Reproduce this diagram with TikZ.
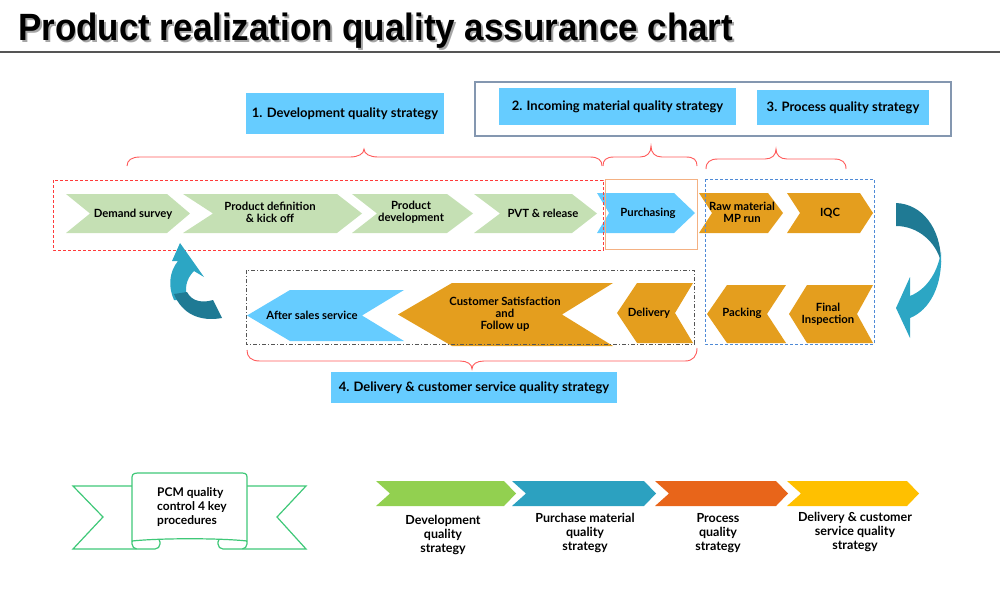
\documentclass[tikz,border=0pt]{standalone}
\usepackage{fontspec}
\setmainfont{Lato}
\newfontfamily\titlefont{Liberation Sans}
\definecolor{skyb}{HTML}{66CCFF}
\definecolor{lgreen}{HTML}{C5E0B4}
\definecolor{orng}{HTML}{E49E1E}
\definecolor{bracered}{HTML}{FF5B5B}
\definecolor{dashred}{HTML}{FF3B3B}
\definecolor{purchbox}{HTML}{F4B183}
\definecolor{procblue}{HTML}{4F8AD6}
\definecolor{outerbox}{HTML}{8497B0}
\definecolor{dgray}{HTML}{555555}
\definecolor{bgreen}{HTML}{92D050}
\definecolor{bteal}{HTML}{2CA1C0}
\definecolor{borange}{HTML}{E8651A}
\definecolor{byellow}{HTML}{FFC000}
\definecolor{arrdark}{HTML}{1F7A94}
\definecolor{arrlight}{HTML}{2CA6C4}
\definecolor{banner}{HTML}{3FC878}
% right-pointing chevron: x0,x1,ytop,ybot,dl,dr,colour
\newcommand\chevR[7]{\fill[#7] (#1,#3) -- ({#2-#6},#3) -- (#2,{(#3+#4)/2}) -- ({#2-#6},#4) -- (#1,#4) -- ({#1+#5},{(#3+#4)/2}) -- cycle;}
% left-pointing chevron: x0(tip),x1,ytop,ybot,dtip,dnotch,colour
\newcommand\chevL[7]{\fill[#7] (#1,{(#3+#4)/2}) -- ({#1+#5},#3) -- (#2,#3) -- ({#2-#6},{(#3+#4)/2}) -- (#2,#4) -- ({#1+#5},#4) -- cycle;}
\newcommand\titletext{Product realization quality assurance chart}
\tikzset{
  lbl/.style={font=\bfseries\fontsize{11.3}{12}\selectfont, align=center, inner sep=0pt},
  sbox/.style={fill=skyb, font=\bfseries\fontsize{13}{14}\selectfont, inner sep=0pt, align=center},
  blab/.style={font=\bfseries\fontsize{12.5}{14}\selectfont, align=center, inner sep=0pt},
  bracel/.style={draw=bracered, line width=0.9pt},
  bn/.style={draw=banner, line width=1.2pt, fill=white},
}
\begin{document}
\begin{tikzpicture}[x=1pt,y=-1pt]
\useasboundingbox (0,0) rectangle (1000,589);
% title with shadow (one node)
\node[anchor=base west, inner sep=0pt, font=\titlefont\bfseries\fontsize{38}{40}\selectfont] (title) at (18,40) {\scalebox{0.92}[1]{\makebox[0pt][l]{\hspace{2pt}\raisebox{-2pt}{\color{black!35}\titletext}}\titletext}};
\draw[dgray, line width=1.5pt] (0,52) -- (1000,52);

% strategy boxes
\draw[outerbox, line width=1.5pt] (475,82) rectangle (951,136);
\node[sbox, minimum width=198pt, minimum height=41pt] (s1) at (345,113.5) {1. Development quality strategy};
\node[sbox, minimum width=237pt, minimum height=37pt] (s2) at (617.5,106.5) {2. Incoming material quality strategy};
\node[sbox, minimum width=172pt, minimum height=35pt] (s3) at (843,107.5) {3. Process quality strategy};
\node[sbox, minimum width=286pt, minimum height=31pt] (s4) at (474,387.5) {4. Delivery \& customer service quality strategy};

% braces
\draw[bracel] (127,166) .. controls (127,160) and (132,157) .. (140,157) -- (350,157) .. controls (358,157) and (364,154) .. (364,149) .. controls (364,154) and (370,157) .. (378,157) -- (590,157) .. controls (598,157) and (602,160) .. (602,166);
\draw[bracel] (603,166) .. controls (603,160) and (606,157) .. (614,157) -- (640,157) .. controls (647,157) and (651,153) .. (651,146) .. controls (651,153) and (655,157) .. (662,157) -- (686,157) .. controls (694,157) and (697,160) .. (697,166);
\draw[bracel] (706,169) .. controls (706,162) and (710,159) .. (718,159) -- (765,159) .. controls (772,159) and (776,155) .. (776,149) .. controls (776,155) and (780,159) .. (787,159) -- (834,159) .. controls (842,159) and (846,162) .. (846,169);
\draw[bracel] (247,350) .. controls (247,357) and (251,361) .. (260,361) -- (460,361) .. controls (467,361) and (472,364) .. (472,369) .. controls (472,364) and (477,361) .. (484,361) -- (685,361) .. controls (693,361) and (697,356) .. (697,348);

% row 1 chevrons
\chevR{66}{190}{194}{233}{24}{23}{lgreen}
\chevR{183}{362}{194}{233}{30}{25}{lgreen}
\chevR{352}{473}{194}{233}{25}{26}{lgreen}
\chevR{474}{597}{194}{233}{26}{25}{lgreen}
\chevR{597}{695}{193}{233}{12}{21}{skyb}
\chevR{699}{783}{193}{233}{13}{15}{orng}
\chevR{787}{873}{193}{233}{13}{13}{orng}
\node[lbl] (n1) at (133,214) {Demand survey};
\node[lbl] (n2) at (270,212) {Product definition\\\& kick off};
\node[lbl] (n3) at (411,212) {Product\\development};
\node[lbl] (n4) at (543,213) {PVT \& release};
\node[lbl] (n5) at (648,213) {Purchasing};
\node[lbl] (n6) at (742,212) {Raw material\\MP run};
\node[lbl] (n7) at (830,213) {IQC};

% row 2 chevrons
\chevL{247}{404}{290}{341}{43}{42}{skyb}
\chevL{398}{613}{283}{346}{54}{51}{orng}
\chevL{617}{693}{283}{343}{20}{18}{orng}
\chevL{707}{786}{285}{343}{20}{19}{orng}
\chevL{789}{873}{285}{343}{18}{16}{orng}
\node[lbl] (m1) at (312,315) {After sales service};
\node[lbl] (m2) at (505,314) {Customer Satisfaction\\and\\Follow up};
\node[lbl] (m3) at (649,313) {Delivery};
\node[lbl] (m4) at (742,313) {Packing};
\node[lbl] (m5) at (828,314) {Final\\Inspection};

% group frames
\draw[dashred, line width=0.8pt, dash pattern=on 3pt off 2pt] (53,180) rectangle (603,250);
\draw[purchbox, line width=0.8pt] (605,179) rectangle (697,249);
\draw[procblue, line width=0.8pt, dash pattern=on 3pt off 2pt] (705,179) rectangle (874,344);
\draw[dgray, line width=0.8pt, dash pattern=on 4pt off 2pt on 1pt off 2pt] (246,270) rectangle (694,344);

% curved arrow (right side)
\fill[arrdark] (896,203) .. controls (922,204) and (941,228) .. (941,262) .. controls (936,242) and (918,226) .. (896,226) -- cycle;
\fill[arrlight] (941,252) .. controls (943,285) and (930,310) .. (910,318) -- (910,338) -- (896,308) -- (910,277) -- (910,296) .. controls (925,290) and (937,275) .. (941,252) -- cycle;
% curved arrow (left side)
\fill[arrlight] (180,243) -- (204,277) -- (194,271) .. controls (186,279) and (184,289) .. (188,300) -- (174,300) .. controls (168,287) and (169,272) .. (178,261) -- (172,261) -- cycle;
\fill[arrdark] (174,294) .. controls (182,314) and (200,322) .. (222,318) -- (213,300) .. controls (203,303) and (192,302) .. (187,292) -- cycle;

% banner
\draw[bn] (73,486) -- (136,486) -- (136,549) -- (73,549) -- (103,517) -- cycle;
\draw[bn] (306,486) -- (243,486) -- (243,549) -- (306,549) -- (277,517) -- cycle;
\draw[bn, rounded corners=5pt] (132,537) rectangle (160,549);
\draw[bn, rounded corners=5pt] (218,537) rectangle (247,549);
\draw[bn] (132,477) .. controls (132,473) and (136,473) .. (140,473) -- (240,473) .. controls (244,473) and (247,473) .. (247,477) -- (247,541) .. controls (220,538) and (160,538) .. (132,541) -- cycle;
\node[anchor=west, font=\bfseries\fontsize{12}{14}\selectfont, align=left, inner sep=0pt] (pcm) at (157,507) {PCM quality\\control 4 key\\procedures};

% bottom legend chevrons
\chevR{376}{516}{481}{506}{14}{12}{bgreen}
\chevR{512}{656}{481}{506}{14}{12}{bteal}
\chevR{655}{788}{481}{506}{14}{12}{borange}
\chevR{787}{919}{481}{506}{14}{12}{byellow}
\node[blab] (l1) at (443,535) {Development\\quality\\strategy};
\node[blab] (l2) at (585,533) {Purchase material\\quality\\strategy};
\node[blab] (l3) at (718,533) {Process\\quality\\strategy};
\node[blab] (l4) at (855,532) {Delivery \& customer\\service quality\\strategy};
\end{tikzpicture}
\end{document}
